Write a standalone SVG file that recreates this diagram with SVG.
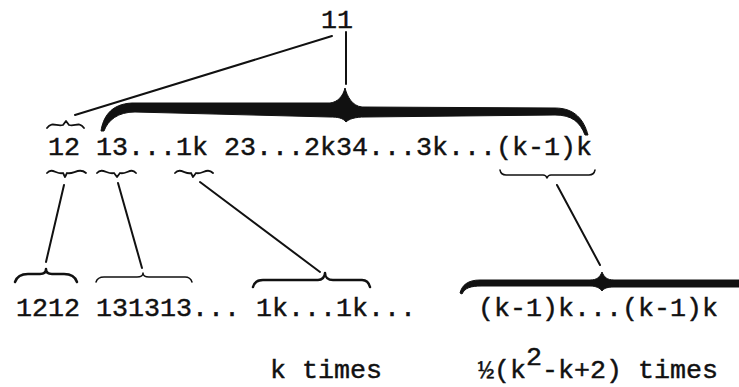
<svg xmlns="http://www.w3.org/2000/svg" width="739" height="387" viewBox="0 0 739 387">
<style>
text{font-family:"Liberation Mono","DejaVu Sans Mono",monospace;font-size:26.67px;fill:#111;stroke:#111;stroke-width:0.45}
.ln{stroke:#111;stroke-width:2;fill:none;stroke-linecap:round}
.br{stroke:#111;fill:none;stroke-linecap:round;stroke-linejoin:round}
.fb{fill:#111;stroke:#111;stroke-width:1}
</style>
<rect width="739" height="387" fill="#fff"/>
<g id="connectors">
<line class="ln" x1="332" y1="36" x2="75" y2="115"/>
<line class="ln" x1="346" y1="32" x2="346" y2="84"/>
<line class="ln" x1="64" y1="185" x2="46" y2="262"/>
<line class="ln" x1="118" y1="183" x2="142" y2="268"/>
<line class="ln" x1="200" y1="182" x2="320" y2="272"/>
<line class="ln" x1="557" y1="185" x2="600" y2="265"/>
</g>
<g id="node-11">
<text x="321" y="28">11</text>
</g>
<g id="node-row2">
<path class="br" stroke-width="1.8" d="M47,128 C52,121 57,127 63,125 L66,121 L69,125 C75,127 79,121 84,128"/>
<path class="fb" d="M101,131 C103,118 110,104 132,103 L330,103 C338,102 343,96 345,88 C347,96 352,106 362,107 L555,108 C575,108 584,120 588,135 L585,135 C580,122 572,115 555,115 L365,117 C355,117 349,119 346,122 C343,118 338,117 330,117 L135,112 C118,112 108,120 104,131 Z"/>
<text x="48" y="155">12 13...1k 23...2k34...3k...(k-1)k</text>
<path class="br" stroke-width="1.8" d="M47,173 C52,167 57,175 63,173 L65,177 L67,173 C73,175 79,167 86,173"/>
<path class="br" stroke-width="1.8" d="M97,173 C102,167 108,175 114,173 L117,177 L120,173 C126,175 131,167 136,173"/>
<path class="br" stroke-width="1.8" d="M175,173 C180,167 186,175 191,173 L193,177 L196,173 C202,175 207,167 213,173"/>
<path class="br" stroke-width="1.5" d="M500,170 Q501,175 506,175 L543,175 Q546,175 547,178 Q548,175 551,175 L589,175 Q594,175 595,170"/>
</g>
<g id="node-1212">
<path class="br" stroke-width="2.5" d="M15,282 C17,276 21,274 28,274 L40,274 C44,274 46,272 46,269 C46,272 48,274 52,274 L64,274 C71,274 75,276 77,282"/>
<text x="16" y="316">1212</text>
</g>
<g id="node-1313">
<path class="br" stroke-width="1.5" d="M96,282 C97,279 99,277 104,277 L137,277 C141,277 143,275 143,273 C143,275 145,277 149,277 L185,277 C189,277 191,279 192,282"/>
<text x="96" y="316">131313...</text>
</g>
<g id="node-1k">
<path class="br" stroke-width="2.5" d="M253,287 C254,283 257,280 263,280 L318,280 C322,280 325,277 325,273 C325,277 328,280 333,280 L362,280 C367,280 369,283 370,287"/>
<text x="256" y="316">1k...1k...</text>
<text x="270" y="378">k times</text>
</g>
<g id="node-k1k">
<path class="fb" d="M460,293 C462,285 468,280 480,280 L590,280 C597,280 600,277 602,272 C604,277 607,280 614,280 L739,280 L739,287 L614,287 C608,287 604,288 602,291 C600,288 596,286 590,286 L482,286 C470,286 465,288 462,294 Z"/>
<text x="478" y="316">(k-1)k...(k-1)k</text>
<text x="478" y="378">½(k<tspan dy="-13">2</tspan><tspan dy="13">-k+2) times</tspan></text>
</g>
</svg>
